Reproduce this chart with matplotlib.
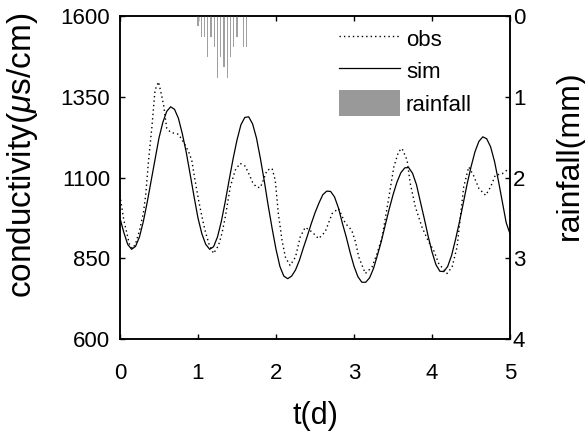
import numpy as np
import matplotlib
matplotlib.use("Agg")
import matplotlib.pyplot as plt
from matplotlib.patches import Patch
from matplotlib.lines import Line2D

plt.rcParams['font.family'] = ['Liberation Sans', 'DejaVu Sans']
plt.rcParams['mathtext.fontset'] = 'custom'
plt.rcParams['mathtext.it'] = 'Liberation Sans:italic'
plt.rcParams['mathtext.rm'] = 'Liberation Sans'

# === data ===
# simulated conductivity, every 0.05 d from 0 to 5 d
sim_t = np.linspace(0, 5, 101)
sim_c = [975, 930, 893, 878,
         887, 916, 964, 1024, 1090, 1156, 1222, 1271, 1305, 1319,
         1311, 1283, 1235, 1178, 1110, 1041, 975, 926, 893, 878,
         886, 916, 965, 1026, 1093, 1158, 1216, 1263, 1286,
         1288, 1266, 1222, 1159, 1089, 1013, 943, 878, 825, 795, 787,
         795, 814, 844, 882, 918, 956, 991, 1021, 1047, 1058,
         1057, 1040, 1006, 959, 916, 868, 825, 793, 776,
         776, 790, 819, 860, 903, 953, 1002, 1047, 1086, 1115, 1130,
         1131, 1113, 1078, 1025, 973, 918, 869, 830, 810,
         809, 825, 859, 908, 962, 1021, 1081, 1134, 1180, 1212, 1226,
         1220, 1195, 1150, 1090, 1025, 960, 925]

# observed conductivity (irregular read points)
obs_t = [0.00, 0.05, 0.09, 0.12, 0.16, 0.20, 0.25, 0.30, 0.33, 0.367, 0.41, 0.45,
         0.495, 0.538, 0.56, 0.60, 0.65, 0.70, 0.75, 0.80, 0.837, 0.88, 0.92, 0.96,
         1.008, 1.05, 1.09, 1.14, 1.20, 1.264, 1.31, 1.35, 1.414, 1.478, 1.54, 1.606,
         1.65, 1.70, 1.75, 1.80, 1.85, 1.885, 1.95, 1.99, 2.03, 2.077, 2.12, 2.18,
         2.25, 2.31, 2.375, 2.46, 2.546, 2.63, 2.72, 2.80, 2.89, 2.97, 3.02, 3.06,
         3.145, 3.23, 3.295, 3.36, 3.44, 3.51, 3.57, 3.615, 3.68, 3.72, 3.786, 3.87,
         3.956, 4.02, 4.085, 4.19, 4.256, 4.32, 4.363, 4.405, 4.47, 4.53, 4.60, 4.686,
         4.75, 4.81, 4.90, 4.96, 5.00]
obs_c = [1045, 968, 927, 895, 880, 895, 935, 990, 1045, 1154, 1257, 1371,
         1396, 1350, 1324, 1252, 1240, 1237, 1234, 1215, 1200, 1180, 1154, 1095,
         1030, 980, 937, 895, 865, 890, 930, 978, 1071, 1123, 1144, 1135,
         1113, 1085, 1070, 1069, 1100, 1123, 1128, 1092, 989, 906, 854, 828,
         854, 916, 946, 932, 911, 932, 989, 1004, 958, 937, 900, 854,
         803, 823, 865, 916, 1030, 1133, 1180, 1190, 1154, 1082, 1009, 947,
         901, 875, 834, 803, 823, 885, 978, 1071, 1133, 1107, 1066, 1045,
         1071, 1107, 1112, 1123, 1125]

# hourly rainfall (mm) starting at day 1
rain_hour = list(range(24, 40))
rain_mm = [0.127, 0.254, 0.254, 0.508, 0.254, 0.381, 0.762, 0.508,
           0.635, 0.762, 0.508, 0.381, 0.254, 0.0, 0.381, 0.381]

fig = plt.figure(figsize=(5.85, 4.32), dpi=100)
ax1 = fig.add_axes([0.205, 0.215, 0.667, 0.748])

dots = (0, (1, 2.2))
ax1.plot(sim_t, sim_c, color='black', lw=0.9)
ax1.plot(obs_t, obs_c, color='black', lw=1.0, linestyle=dots)
ax1.set_xlim(0, 5)
ax1.set_ylim(600, 1600)
ax1.set_xticks([0, 1, 2, 3, 4, 5])
ax1.set_yticks([600, 850, 1100, 1350, 1600])
ax1.tick_params(direction='in', length=3.5, width=1, labelsize=16, top=True)
ax1.tick_params(axis='x', pad=17)
ax1.tick_params(axis='y', pad=7)
ax1.set_xlabel('t(d)', fontsize=22)
ax1.set_ylabel(r'conductivity($\mu$s/cm)', fontsize=24)
ax1.xaxis.set_label_coords(0.5, -0.19)
ax1.yaxis.set_label_coords(-0.205, 0.57)

ax2 = ax1.twinx()
ax2.bar(np.array(rain_hour) / 24, rain_mm, width=0.018, color='#a0a0a0')
ax2.set_ylim(4, 0)
ax2.set_yticks([0, 1, 2, 3, 4])
ax2.tick_params(direction='in', length=3.5, width=1, labelsize=16, pad=2)
ax2.set_ylabel('rainfall(mm)', fontsize=23)
ax2.yaxis.set_label_coords(1.115, 0.57)

for ax in (ax1, ax2):
    for s in ax.spines.values():
        s.set_linewidth(1.1)

handles = [Line2D([], [], color='black', lw=1.0, linestyle=dots),
           Line2D([], [], color='black', lw=0.9),
           Patch(facecolor='#999999', edgecolor='none')]
ax2.legend(handles, ['obs', 'sim', 'rainfall'], loc='upper left',
           bbox_to_anchor=(0.562, 0.97), frameon=False, fontsize=16,
           borderpad=0, borderaxespad=0, handlelength=2.75, handleheight=1.4,
           handletextpad=0.25, labelspacing=0.3)

fig.savefig('out.png', dpi=100)
